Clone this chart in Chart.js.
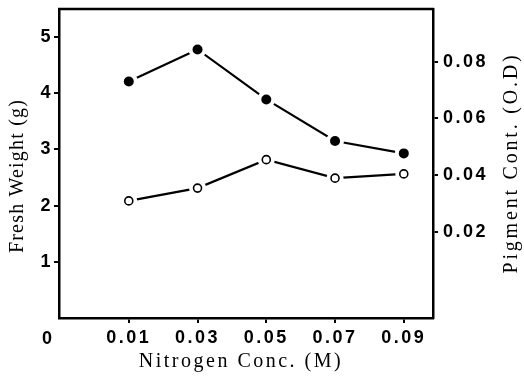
<!DOCTYPE html>
<html>
<head>
<meta charset="utf-8">
<script src="https://cdn.jsdelivr.net/npm/chart.js@4/dist/chart.umd.min.js"></script>
<style>
  html, body { margin: 0; padding: 0; background: #fff; }
</style>
</head>
<body>
<canvas id="nitrogen_chart" width="524" height="378"></canvas>
<script>
// Nitrogen concentration (M)
const concentrations = [0.01, 0.03, 0.05, 0.07, 0.09];
// Fresh weight (g) - filled circles, left axis
const freshWeight = [4.21, 4.78, 3.89, 3.15, 2.93];
// Pigment content (O.D) - open circles, right axis
const pigmentContent = [0.031, 0.0355, 0.0455, 0.039, 0.0405];

// Tick labels
const weightTicks  = [1, 2, 3, 4, 5];
const pigmentTicks = [0.02, 0.04, 0.06, 0.08];

// Axis titles
const xTitle       = 'Nitrogen Conc. (M)';
const weightTitle  = 'Fresh Weight (g)';
const pigmentTitle = 'Pigment Cont. (O.D)';

const tickFont  = { family: "'Liberation Sans', Arial, sans-serif", size: 18, weight: 'bold' };
const titleFont = "20px 'Liberation Serif', 'Times New Roman', serif";

const freshPoints   = concentrations.map( ( c, i ) => ({ x: c, y: freshWeight[i] }) );
const pigmentPoints = concentrations.map( ( c, i ) => ({ x: c, y: pigmentContent[i] }) );

// frame top line, corner "0" and axis titles
const framePlugin = {
    id: 'frame',
    beforeDraw( chart ) {
        chart.ctx.letterSpacing = '2.5px';
    },
    afterDraw( chart ) {
        const { ctx, chartArea: a } = chart;
        ctx.save();
        ctx.strokeStyle = '#000';
        ctx.lineWidth = 2.5;
        ctx.beginPath();
        ctx.moveTo( a.left - 1, a.top );
        ctx.lineTo( a.right + 1, a.top );
        ctx.stroke();

        ctx.fillStyle = '#000';
        ctx.textAlign = 'center';
        ctx.textBaseline = 'middle';
        ctx.letterSpacing = '0px';
        ctx.font = "bold 18px 'Liberation Sans', Arial, sans-serif";
        ctx.fillText( '0', 47, 339 );

        ctx.font = titleFont;
        ctx.letterSpacing = '2.5px';
        ctx.fillText( xTitle, 241, 362 );

        ctx.letterSpacing = '1.2px';
        ctx.translate( 18, 176 );
        ctx.rotate( -Math.PI / 2 );
        ctx.fillText( weightTitle, 0, 0 );
        ctx.restore();

        ctx.save();
        ctx.fillStyle = '#000';
        ctx.textAlign = 'center';
        ctx.textBaseline = 'middle';
        ctx.font = titleFont;
        ctx.letterSpacing = '2.8px';
        ctx.translate( 512, 163 );
        ctx.rotate( -Math.PI / 2 );
        ctx.fillText( pigmentTitle, 0, 0 );
        ctx.restore();
        ctx.letterSpacing = '0px';
    }
};

const axisGrid = { drawOnChartArea: false, drawTicks: true, tickLength: 5, color: '#000', lineWidth: 2 };
const axisBorder = { display: true, color: '#000', width: 2.5 };

new Chart( document.getElementById('nitrogen_chart'), {
    type: 'line',
    data: {
        datasets: [
            {
                data: freshPoints, yAxisID: 'y', showLine: false, order: 0,
                pointRadius: 5, pointBackgroundColor: '#000', pointBorderWidth: 0
            },
            {
                data: pigmentPoints, yAxisID: 'y1', showLine: false, order: 0,
                pointRadius: 4, pointBackgroundColor: '#fff', pointBorderColor: '#000', pointBorderWidth: 1.6
            },
            {
                data: freshPoints, yAxisID: 'y', order: 1,
                borderColor: '#000', borderWidth: 2.2,
                pointRadius: 9, pointBackgroundColor: '#fff', pointBorderWidth: 0
            },
            {
                data: pigmentPoints, yAxisID: 'y1', order: 1,
                borderColor: '#000', borderWidth: 2.2,
                pointRadius: 8.5, pointBackgroundColor: '#fff', pointBorderWidth: 0
            }
        ]
    },
    options: {
        responsive: false,
        devicePixelRatio: 1,
        animation: false,
        layout: { padding: { top: 9, left: 0, right: 0, bottom: 0 } },
        plugins: { legend: { display: false }, tooltip: { enabled: false } },
        scales: {
            x: {
                type: 'linear', position: 'bottom', min: -0.0103, max: 0.0985,
                grid: axisGrid, border: axisBorder,
                ticks: { font: tickFont, color: '#000', padding: 4, callback: v => v.toFixed(2) },
                afterBuildTicks: s => { s.ticks = concentrations.map( v => ({ value: v }) ); },
                afterFit: s => { s.height = 60; s.paddingLeft = 0; s.paddingRight = 0; }
            },
            y: {
                type: 'linear', position: 'left', min: 0, max: 5.5,
                grid: axisGrid, border: axisBorder,
                ticks: { font: tickFont, color: '#000', padding: 1 },
                afterBuildTicks: s => { s.ticks = weightTicks.map( v => ({ value: v }) ); },
                afterFit: s => { s.width = 59; s.paddingTop = 0; s.paddingBottom = 0; }
            },
            y1: {
                type: 'linear', position: 'right', min: -0.0102, max: 0.0985,
                grid: axisGrid, border: axisBorder,
                ticks: { font: tickFont, color: '#000', padding: 5, callback: v => v.toFixed(2) },
                afterBuildTicks: s => { s.ticks = pigmentTicks.map( v => ({ value: v }) ); },
                afterFit: s => { s.width = 91; s.paddingTop = 0; s.paddingBottom = 0; }
            }
        }
    },
    plugins: [framePlugin]
});
</script>
</body>
</html>
